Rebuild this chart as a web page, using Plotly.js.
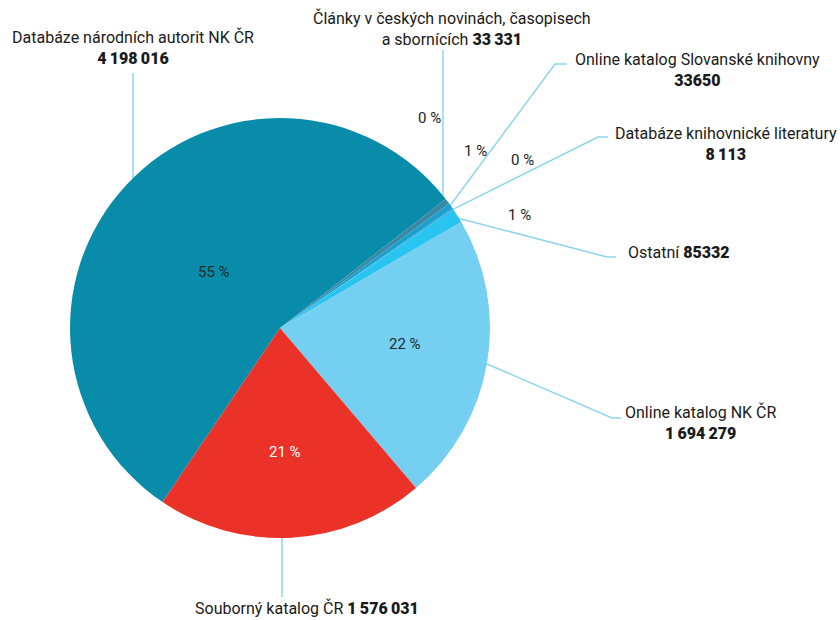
<!DOCTYPE html>
<html>
<head>
<meta charset="utf-8">
<script src="https://cdn.plot.ly/plotly-3.0.1.min.js"></script>
<style>html,body{margin:0;padding:0;background:#fff;}#chart{width:840px;height:620px;}</style>
</head>
<body>
<div id="chart"></div>
<script>
// ---- data ----
var categories = [
  "Databáze národních autorit NK ČR",
  "Články v českých novinách, časopisech a sbornících",
  "Online katalog Slovanské knihovny",
  "Databáze knihovnické literatury",
  "Ostatní",
  "Online katalog NK ČR",
  "Souborný katalog ČR"
];
var values = [4198016, 33331, 33650, 8113, 85332, 1694279, 1576031];
var valueLabels = ["4\u2009198\u2009016", "33\u2009331", "33650", "8\u2009113", "85332", "1\u2009694\u2009279", "1\u2009576\u2009031"];
var percentLabels = ["55 %", "0 %", "1 %", "0 %", "1 %", "22 %", "21 %"];
var nameLines = [
  ["Databáze národních autorit NK ČR"],
  ["Články v českých novinách, časopisech", "a sbornících"],
  ["Online katalog Slovanské knihovny"],
  ["Databáze knihovnické literatury"],
  ["Ostatní"],
  ["Online katalog NK ČR"],
  ["Souborný katalog ČR"]
];
var colors = ["#088caa", "#3a88a4", "#1c9fcd", "#2aa9da", "#29c4ef", "#74cff1", "#ea3228"];

// ---- layout constants (pixels) ----
var W = 840, H = 620;
var CX = 280, CY = 328, R = 210;
var ROT = 214;
function px(x){ return x / W; }
function py(y){ return 1 - y / H; }

var nameLayout = [
  {x:133, y:47, numInline:false, conn:'v', vx:133, ly:73},
  {x:452, y:29, numInline:true, conn:'v', vx:443, ly:50},
  {x:697, y:70, numInline:false, conn:'e', ex:555, ey:64, lx:567},
  {x:726, y:144, numInline:false, conn:'e', ex:598, ey:137, lx:608},
  {x:679, y:252, numInline:true, conn:'e', ex:607, ey:257, lx:616},
  {x:700, y:422, numInline:false, conn:'e', ex:612, ey:418, lx:621},
  {x:307, y:608, numInline:true, conn:'v', vx:282, ly:597}
];
var pctLayout = [
  {x:214, y:272, c:"#1f2a30"},
  {x:430, y:118, c:"#222"},
  {x:475, y:151, c:"#222"},
  {x:522, y:160, c:"#222"},
  {x:519, y:215, c:"#222"},
  {x:405, y:344, c:"#1f2a30"},
  {x:285, y:452, c:"#ffffff"}
];

// ---- slice angles (from data) ----
var total = values.reduce(function(a,b){return a+b;},0);
var mids = [];
var acc = ROT;
values.forEach(function(v){
  var span = v / total * 360;
  mids.push(acc + span/2);
  acc += span;
});
function edgePoint(deg, r){
  var a = deg * Math.PI / 180;
  return [CX + r*Math.sin(a), CY - r*Math.cos(a)];
}

var annotations = [];
var shapes = [];
var lineColor = "#8fd4ee";
var numStyle = function(s){ return '<span style="font-weight:900">' + s + '</span>'; };

categories.forEach(function(cat, i){
  var L = nameLayout[i];
  var lines = nameLines[i].slice();
  if (L.numInline) {
    lines[lines.length-1] = lines[lines.length-1] + ' ' + numStyle(valueLabels[i]);
  } else {
    lines.push(numStyle(valueLabels[i]));
  }
  annotations.push({
    xref:'paper', yref:'paper', x:px(L.x), y:py(L.y),
    xanchor:'center', yanchor:'middle', showarrow:false, align:'center',
    text: lines.join('<br>'),
    font:{family:'Roboto, "Noto Sans", sans-serif', size:16, color:'#1a1a1a'}
  });
  var P = pctLayout[i];
  annotations.push({
    xref:'paper', yref:'paper', x:px(P.x), y:py(P.y),
    xanchor:'center', yanchor:'middle', showarrow:false,
    text: percentLabels[i],
    font:{family:'Roboto, "Noto Sans", sans-serif', size:15, color:P.c}
  });
  var path;
  if (L.conn === 'v') {
    var dx = L.vx - CX;
    var dy = Math.sqrt(Math.max(R*R - dx*dx, 0));
    var mid = edgePoint(mids[i], R);
    var yEdge = (mid[1] < CY) ? CY - dy : CY + dy;
    path = 'M ' + px(L.vx) + ',' + py(L.ly) + ' L ' + px(L.vx) + ',' + py(yEdge);
  } else {
    var s = edgePoint(mids[i], R - 3);
    path = 'M ' + px(s[0]) + ',' + py(s[1]) + ' L ' + px(L.ex) + ',' + py(L.ey) + ' L ' + px(L.lx) + ',' + py(L.ey);
  }
  shapes.push({type:'path', xref:'paper', yref:'paper', path:path, line:{color:lineColor, width:1.5}, layer:'below'});
});

var trace = {
  type:'pie',
  labels: categories,
  values: values,
  sort:false,
  direction:'clockwise',
  rotation: ROT,
  marker:{colors:colors, line:{width:0}},
  textinfo:'none',
  hoverinfo:'label+value+percent',
  showlegend:false,
  domain:{x:[px(CX-R), px(CX+R)], y:[py(CY+R), py(CY-R)]}
};

var layout = {
  width:W, height:H,
  margin:{l:0, r:0, t:0, b:0},
  paper_bgcolor:'#ffffff',
  plot_bgcolor:'#ffffff',
  showlegend:false,
  annotations: annotations,
  shapes: shapes
};

Plotly.newPlot('chart', [trace], layout, {displayModeBar:false, staticPlot:true});
</script>
</body>
</html>
